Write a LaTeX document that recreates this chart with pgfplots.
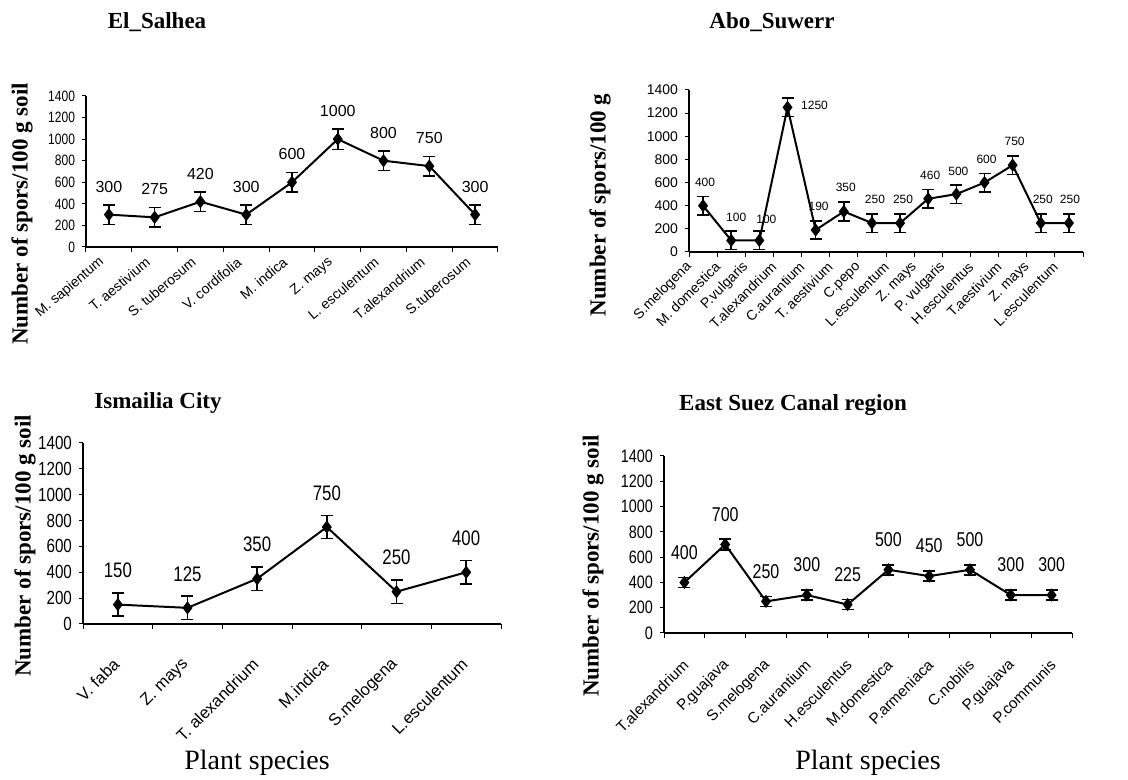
\documentclass[border=0pt]{standalone}
\usepackage{fontspec}
\setmainfont{Liberation Sans}
\newfontfamily\tnr{Liberation Serif}
\newfontfamily\narrow[FakeStretch=0.8]{Liberation Sans}
\usepackage{pgfplots}
\usepackage{pgfplotstable}
\pgfplotsset{compat=1.18}

\pgfplotstableread{
x y e
0 300 90
1 275 90
2 420 90
3 300 90
4 600 90
5 1000 95
6 800 90
7 750 90
8 300 90
}\salhea

\pgfplotstableread{
x y e dx dy
0 400 80 1 11.5
1 100 80 2.5 11.5
2 100 80 3.5 10.5
3 1250 80 13.5 1
4 190 80 1.5 12
5 350 80 1 12
6 250 80 1.5 12
7 250 80 1.5 12
8 460 80 1 11.5
9 500 80 1 11.5
10 600 80 1 11.5
11 750 80 1 12
12 250 80 1 12
13 250 80 0.5 12
}\abosuwerr

\pgfplotstableread{
x y e
0 150 90
1 125 90
2 350 90
3 750 90
4 250 90
5 400 90
}\ismailia

\pgfplotstableread{
x y e
0 400 40
1 700 45
2 250 40
3 300 40
4 225 40
5 500 40
6 450 40
7 500 40
8 300 40
9 300 40
}\eastsuez

\pgfplotsset{
  panel/.style={
    scale only axis, anchor=south west,
    axis x line*=bottom, axis y line*=left,
    axis line style={-, line width=0.6pt, black},
    enlargelimits=false, ymin=0, ymax=1400, ytick={0,200,...,1400},
    tick align=outside, major tick length=2pt, minor tick length=2.5pt,
    major x tick style={draw=none},
    tick style={black, line width=0.5pt},
    /pgf/number format/1000 sep={},
    /pgf/number format/assume math mode=true,
    nodes near coords, point meta=y,
  },
  ser/.style={black, line width=1pt, mark=diamond*, mark size=2.5pt,
    mark options={solid},
    error bars/.cd, y dir=both, y explicit, error mark=|,
    error mark options={black, mark size=3pt, line width=0.8pt},
    error bar style={line width=0.8pt}},
}

\begin{document}
\begin{tikzpicture}
\useasboundingbox (0pt,0pt) rectangle (564pt,390pt);

% ---------- El_Salhea ----------
\begin{axis}[panel, at={(43pt,266.5pt)}, width=206pt, height=75.5pt,
  xmin=-0.5, xmax=8.5, xtick={0,...,8},
  minor xtick={-0.5,0.5,...,8.5},
  xticklabels={M. sapientum, T. aestivium, S. tuberosum, V. cordifolia, M. indica, Z. mays, L. esculentum, T.alexandrium, S.tuberosum},
  xticklabel style={font=\fontsize{7}{7.5}\selectfont, xshift=-2.5pt, yshift=-4pt, rotate=40, anchor=east, inner sep=1pt},
  yticklabel style={font=\narrow\fontsize{7.5}{8}\selectfont},
  every node near coord/.append style={font=\fontsize{8}{9}\selectfont, anchor=center, yshift=14pt},
]
\addplot[ser] table[x=x, y=y, y error=e] {\salhea};
\end{axis}

% ---------- Abo_Suwerr ----------
\begin{axis}[panel, at={(344.5pt,264pt)}, width=197pt, height=81pt,
  xmin=-0.5, xmax=13.5, xtick={0,...,13},
  minor xtick={-0.5,0.5,...,13.5},
  xticklabels={S.melogena, M. domestica, P.vulgaris, T.alexandrium, C.aurantium, T. aestivium, C.pepo, L.esculentum, Z. mays, P. vulgaris, H.esculentus, T.aestivium, Z. mays, L.esculentum},
  xticklabel style={font=\fontsize{7}{7.5}\selectfont, xshift=-6pt, yshift=-3.5pt, rotate=45, anchor=east, inner sep=1pt},
  yticklabel style={font=\fontsize{7}{8}\selectfont},
  visualization depends on={\thisrow{dx}\as\labdx},
  visualization depends on={\thisrow{dy}\as\labdy},
  every node near coord/.append style={font=\fontsize{6}{7}\selectfont, anchor=center, xshift=\labdx pt, yshift=\labdy pt},
]
\addplot[ser] table[x=x, y=y, y error=e] {\abosuwerr};
\end{axis}

% ---------- Ismailia City ----------
\begin{axis}[panel, at={(41.5pt,78pt)}, width=209pt, height=90.5pt,
  xmin=-0.5, xmax=5.5, xtick={0,...,5},
  minor xtick={-0.5,0.5,...,5.5},
  xticklabels={V. faba, Z. mays, T. alexandrium, M.indica, S.melogena, L.esculentum},
  xticklabel style={font=\fontsize{8.3}{9}\selectfont, yshift=-16pt, rotate=45, anchor=east, inner sep=1pt},
  yticklabel style={font=\narrow\fontsize{9.5}{10}\selectfont},
  every node near coord/.append style={font=\narrow\fontsize{10.5}{11}\selectfont, anchor=center, yshift=17pt},
]
\addplot[ser] table[x=x, y=y, y error=e] {\ismailia};
\end{axis}

% ---------- East Suez Canal region ----------
\begin{axis}[panel, at={(332pt,73.5pt)}, width=204pt, height=88.5pt,
  xmin=-0.5, xmax=9.5, xtick={0,...,9},
  minor xtick={-0.5,0.5,...,9.5},
  xticklabels={T.alexandrium, P.guajava, S.melogena, C.aurantium, H.esculentus, M.domestica, P.armeniaca, C.nobilis, P.guajava, P.communis},
  xticklabel style={font=\fontsize{7.6}{8.5}\selectfont, xshift=1.5pt, yshift=-12pt, rotate=45, anchor=east, inner sep=1pt},
  yticklabel style={font=\narrow\fontsize{9}{10}\selectfont},
  every node near coord/.append style={font=\narrow\fontsize{10}{11}\selectfont, anchor=center, yshift=15pt},
]
\addplot[ser] table[x=x, y=y, y error=e] {\eastsuez};
\end{axis}

% ---------- titles and axis labels ----------
\begin{scope}[every node/.style={font=\tnr\bfseries\fontsize{11.5}{12}\selectfont}]
\node at (78.5pt,379pt) {El\_Salhea};
\node at (386pt,379pt) {Abo\_Suwerr};
\node at (79pt,188.5pt) {Ismailia City};
\node at (396.5pt,187.5pt) {East Suez Canal region};
\node[rotate=90] at (11pt,283pt) {Number of spors/100 g soil};
\node[rotate=90] at (300pt,287.5pt) {Number of spors/100 g};
\node[rotate=90] at (12.5pt,117pt) {Number of spors/100 g soil};
\node[rotate=90] at (296.5pt,107pt) {Number of spors/100 g soil};
\end{scope}
\node[font=\tnr\fontsize{14}{15}\selectfont] at (128.5pt,8.5pt) {Plant species};
\node[font=\tnr\fontsize{14}{15}\selectfont] at (434pt,8.5pt) {Plant species};
\end{tikzpicture}
\end{document}
